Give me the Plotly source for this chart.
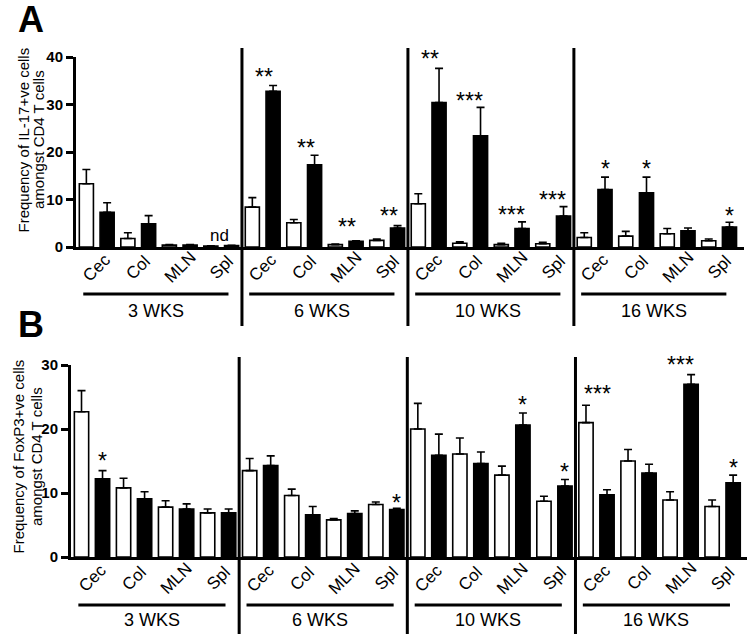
import plotly.graph_objects as go

# ---------------- data ----------------
groups = ["3 WKS", "6 WKS", "10 WKS", "16 WKS"]
tissues = ["Cec", "Col", "MLN", "Spl"]

# Panel A: IL-17+ve (% of CD4 T cells); order = group-major, tissue-minor
il17_white = [13.3, 1.8, 0.4, 0.2, 8.4, 5.1, 0.5, 1.4, 9.1, 0.8, 0.5, 0.7, 2.0, 2.3, 2.8, 1.3]
il17_white_err = [3.0, 1.2, 0.1, 0.05, 2.0, 0.7, 0.1, 0.3, 2.1, 0.3, 0.3, 0.3, 1.0, 1.0, 1.1, 0.4]
il17_black = [7.3, 4.9, 0.4, 0.3, 32.8, 17.3, 1.2, 4.0, 30.4, 23.4, 3.9, 6.5, 12.1, 11.4, 3.4, 4.2]
il17_black_err = [2.0, 1.7, 0.1, 0.05, 1.2, 2.0, 0.1, 0.5, 7.2, 6.0, 1.4, 2.0, 2.6, 3.3, 0.6, 1.0]

# Panel B: FoxP3+ve (% of CD4 T cells)
foxp3_white = [22.7, 10.8, 7.8, 6.9, 13.5, 9.6, 5.8, 8.2, 20.0, 16.1, 12.8, 8.7, 21.0, 15.0, 8.9, 7.9]
foxp3_white_err = [3.3, 1.5, 1.0, 0.6, 1.9, 1.0, 0.2, 0.4, 4.0, 2.5, 1.4, 0.8, 2.7, 1.8, 1.3, 1.0]
foxp3_black = [12.2, 9.1, 7.5, 6.9, 14.3, 6.6, 6.8, 7.4, 15.9, 14.6, 20.6, 11.1, 9.7, 13.1, 27.0, 11.6]
foxp3_black_err = [1.3, 1.1, 0.8, 0.6, 1.5, 1.3, 0.4, 0.2, 3.3, 1.8, 1.9, 1.0, 0.8, 1.4, 1.5, 1.2]

# significance marks: (group index, tissue index, bar 0=white/1=black/0.5=pair, text, y value)
sig_A = [(0, 3, 0.5, "nd", 2.5),
         (1, 0, 1, "**", 36.7), (1, 1, 1, "**", 21.6), (1, 2, 1, "**", 5.1), (1, 3, 1, "**", 7.3),
         (2, 0, 1, "**", 40.4), (2, 1, 1, "***", 31.6), (2, 2, 1, "***", 7.6), (2, 3, 1, "***", 10.8),
         (3, 0, 1, "*", 17.3), (3, 1, 1, "*", 17.3), (3, 3, 1, "*", 7.4)]
sig_B = [(0, 0, 1, "*", 15.7),
         (1, 3, 1, "*", 9.1),
         (2, 2, 1, "*", 24.3), (2, 3, 1, "*", 13.9),
         (3, 0, 0, "***", 26.1), (3, 2, 1, "***", 30.6), (3, 3, 1, "*", 14.6)]

yticks_A = [0, 10, 20, 30, 40]
yticks_B = [0, 10, 20, 30]
yrange_A = [0, 40]
yrange_B = [0, 30]

# ---------------- layout helpers ----------------
W, H = 754, 644
FONT = "Liberation Sans, Arial, Helvetica, sans-serif"


def py(p):  # pixel row -> paper y
    return (H - p) / H


def px(p):  # pixel column -> paper x
    return p / W


white_slots = [8 * g + 2 * t for g in range(len(groups)) for t in range(len(tissues))]
black_slots = [s + 1 for s in white_slots]

fig = go.Figure()


def add_bars(xa, ya, wv, we, bv, be):
    for slots, vals, errs, col in [(white_slots, wv, we, "white"), (black_slots, bv, be, "black")]:
        fig.add_trace(go.Bar(
            x=slots, y=vals, width=0.68, xaxis=xa, yaxis=ya,
            marker=dict(color=col, line=dict(color="black", width=1.6)),
            error_y=dict(type="data", array=errs, arrayminus=[0] * len(errs), symmetric=False,
                         color="black", thickness=1.6, width=4),
            showlegend=False, hoverinfo="skip"))


add_bars("x", "y", il17_white, il17_white_err, il17_black, il17_black_err)
add_bars("x2", "y2", foxp3_white, foxp3_white_err, foxp3_black, foxp3_black_err)

axis_common = dict(showgrid=False, zeroline=False, showline=True, linecolor="black", linewidth=3,
                   automargin=False)
tickfont = dict(family=FONT, size=15, color="black", weight="bold")

fig.update_layout(
    template="none",
    width=W, height=H, autosize=False, margin=dict(l=0, r=0, t=0, b=0, pad=0),
    paper_bgcolor="white", plot_bgcolor="white", barmode="overlay", showlegend=False,
    xaxis=dict(domain=[px(76), px(744)], range=[-0.5, 31.7], showticklabels=False, ticks="",
               anchor="y", **axis_common),
    yaxis=dict(domain=[py(247), py(57)], range=yrange_A, tickvals=yticks_A, ticks="outside",
               ticklen=7, tickwidth=2.5, tickcolor="black", tickfont=tickfont, anchor="x",
               **axis_common),
    xaxis2=dict(domain=[px(71), px(747)], range=[-0.5, 31.66], showticklabels=False, ticks="",
                anchor="y2", **axis_common),
    yaxis2=dict(domain=[py(557), py(365)], range=yrange_B, tickvals=yticks_B, ticks="outside",
                ticklen=7, tickwidth=2.5, tickcolor="black", tickfont=tickfont, anchor="x2",
                **axis_common),
)

shapes = []
annotations = []

panels = [
    dict(xr="x", yr="y", yrange=yrange_A, sep=(48, 326), uline=294, wk=311, sig=sig_A, lab_dy=-20,
         letter="A", letter_y=20, title=["Frequency of IL-17+ve cells", "amongst CD4 T cells"],
         title_x=(23.5, 39), title_y=140),
    dict(xr="x2", yr="y2", yrange=yrange_B, sep=(357, 634), uline=605, wk=620, sig=sig_B, lab_dy=-21,
         letter="B", letter_y=325, title=["Frequency of FoxP3+ve cells", "amongst CD4 T cells"],
         title_x=(17.5, 36), title_y=457),
]

star_shift = {"*": 0, "**": -9, "***": -11, "nd": -2}

for p in panels:
    for g in range(1, len(groups)):
        shapes.append(dict(type="line", xref=p["xr"], yref="paper", x0=8 * g - 0.5, x1=8 * g - 0.5,
                           y0=py(p["sep"][1]), y1=py(p["sep"][0]), line=dict(color="black", width=3)))
    for g, name in enumerate(groups):
        shapes.append(dict(type="line", xref=p["xr"], yref="paper", x0=8 * g - 0.15, x1=8 * g + 6.85,
                           y0=py(p["uline"]), y1=py(p["uline"]), line=dict(color="black", width=3)))
        annotations.append(dict(text=name, xref=p["xr"], yref="paper", x=8 * g + 3.35, y=py(p["wk"]),
                                showarrow=False, xanchor="center", yanchor="middle",
                                font=dict(family=FONT, size=18, color="black")))
        for t, tis in enumerate(tissues):
            annotations.append(dict(text=tis, xref=p["xr"], yref=p["yr"], x=8 * g + 2 * t + 0.5, y=0,
                                    xshift=0, yshift=p["lab_dy"], textangle=-45, showarrow=False,
                                    xanchor="center", yanchor="middle",
                                    font=dict(family=FONT, size=17, color="black")))
    lo, hi = p["yrange"]
    for g, t, b, txt, val in p["sig"]:
        is_nd = txt == "nd"
        annotations.append(dict(text=txt, xref=p["xr"], yref=p["yr"] + " domain",
                                x=8 * g + 2 * t + b, y=(val - lo) / (hi - lo),
                                xshift=12 if (txt == "***" and b == 0) else star_shift[txt],
                                yshift=0 if is_nd else -4,
                                showarrow=False, xanchor="center", yanchor="middle",
                                font=dict(family=FONT, size=17 if is_nd else 23, color="black")))
    annotations.append(dict(text=p["letter"], xref="paper", yref="paper", x=px(31), y=py(p["letter_y"]),
                            showarrow=False, xanchor="center", yanchor="middle",
                            font=dict(family=FONT, size=36, color="black", weight="bold")))
    for line, lx in zip(p["title"], p["title_x"]):
        annotations.append(dict(text=line, xref="paper", yref="paper", x=px(lx), y=py(p["title_y"]),
                                textangle=-90, showarrow=False, xanchor="center", yanchor="middle",
                                font=dict(family=FONT, size=15, color="black")))

fig.update_layout(shapes=shapes, annotations=annotations)
fig.write_html("out.html", config={"displayModeBar": False},
               post_script="document.body.style.margin='0';")
